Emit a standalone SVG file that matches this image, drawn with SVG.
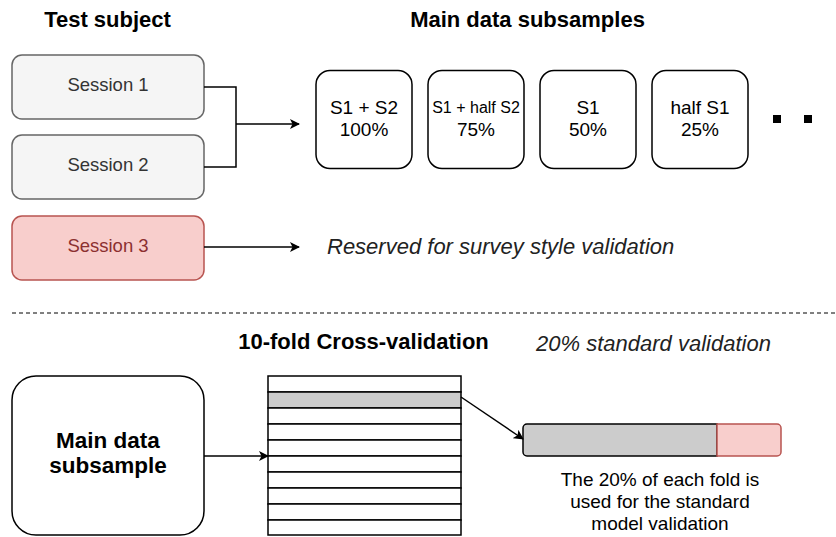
<svg xmlns="http://www.w3.org/2000/svg" width="836" height="537" viewBox="0 0 836 537">
<style>
text{font-family:"Liberation Sans",Arial,Helvetica,sans-serif;fill:#000}
.hd{font-size:22px;font-weight:bold}
.sess{fill:#f5f5f5;stroke:#666;stroke-width:1.5}
.sesst{font-size:18.5px;fill:#333}
.sub{fill:#fff;stroke:#000;stroke-width:1.5}
.subt{font-size:19px}
.it{font-size:22px;font-style:italic;fill:#222}
.ln{fill:none;stroke:#000;stroke-width:1.5}
.fold{fill:#fff;stroke:#000;stroke-width:1.5}
</style>
<defs>
<marker id="ar" viewBox="0 0 10 10" refX="9" refY="5" markerWidth="10" markerHeight="10" markerUnits="userSpaceOnUse" orient="auto">
<path d="M0,0 L10,5 L0,10 L2.5,5 Z" fill="#000"/>
</marker>
</defs>

<g id="headers">
<text class="hd" x="107.5" y="27" text-anchor="middle">Test subject</text>
<text class="hd" x="527.5" y="27" text-anchor="middle">Main data subsamples</text>
</g>

<g id="session1">
<rect class="sess" x="12" y="55" width="192" height="64" rx="10"/>
<text class="sesst" x="108" y="91" text-anchor="middle">Session 1</text>
</g>
<g id="session2">
<rect class="sess" x="12" y="135" width="192" height="64" rx="10"/>
<text class="sesst" x="108" y="171" text-anchor="middle">Session 2</text>
</g>
<g id="session3">
<rect x="12" y="216" width="192" height="64" rx="10" fill="#f8cecc" stroke="#b85450" stroke-width="1.5"/>
<text class="sesst" x="108" y="252" text-anchor="middle" style="fill:#8c3030">Session 3</text>
</g>

<g id="sub1">
<rect class="sub" x="316" y="70.5" width="96" height="98" rx="14"/>
<text class="subt" x="364" y="114" text-anchor="middle">S1 + S2</text>
<text class="subt" x="364" y="136" text-anchor="middle">100%</text>
</g>
<g id="sub2">
<rect class="sub" x="428" y="70.5" width="96" height="98" rx="14"/>
<text x="476" y="113" text-anchor="middle" style="font-size:16px">S1 + half S2</text>
<text class="subt" x="476" y="136" text-anchor="middle">75%</text>
</g>
<g id="sub3">
<rect class="sub" x="540" y="70.5" width="96" height="98" rx="14"/>
<text class="subt" x="588" y="114" text-anchor="middle">S1</text>
<text class="subt" x="588" y="136" text-anchor="middle">50%</text>
</g>
<g id="sub4">
<rect class="sub" x="652" y="70.5" width="96" height="98" rx="14"/>
<text class="subt" x="700" y="114" text-anchor="middle">half S1</text>
<text class="subt" x="700" y="136" text-anchor="middle">25%</text>
</g>
<g id="ellipsis">
<rect x="773" y="115" width="8" height="8" fill="#000"/>
<rect x="804" y="115" width="8" height="8" fill="#000"/>
</g>

<g id="reserved">
<text class="it" x="327" y="254">Reserved for survey style validation</text>
</g>

<line x1="12" y1="313" x2="836" y2="313" stroke="#000" stroke-width="1" stroke-dasharray="4 3"/>

<g id="cv-title">
<text class="hd" x="363.5" y="349" text-anchor="middle">10-fold Cross-validation</text>
<text class="it" x="653.5" y="351" text-anchor="middle">20% standard validation</text>
</g>

<g id="main-subsample">
<rect class="sub" x="12" y="376" width="192" height="159" rx="24"/>
<text x="108" y="448" text-anchor="middle" style="font-size:22.5px;font-weight:bold">Main data</text>
<text x="108" y="473" text-anchor="middle" style="font-size:22.5px;font-weight:bold">subsample</text>
</g>

<g id="folds">
<rect class="fold" x="268" y="376" width="193" height="16"/>
<rect class="fold" x="268" y="392" width="193" height="16" style="fill:#cccccc"/>
<rect class="fold" x="268" y="408" width="193" height="16"/>
<rect class="fold" x="268" y="424" width="193" height="16"/>
<rect class="fold" x="268" y="440" width="193" height="16"/>
<rect class="fold" x="268" y="456" width="193" height="16"/>
<rect class="fold" x="268" y="472" width="193" height="16"/>
<rect class="fold" x="268" y="488" width="193" height="16"/>
<rect class="fold" x="268" y="504" width="193" height="16"/>
<rect class="fold" x="268" y="520" width="193" height="15"/>
</g>

<g id="split-bar">
<path d="M717,424 H527 a4,4 0 0 0 -4,4 V452 a4,4 0 0 0 4,4 H717 Z" fill="#cccccc" stroke="#000" stroke-width="1.5"/>
<path d="M717,424 H777 a4,4 0 0 1 4,4 V452 a4,4 0 0 1 -4,4 H717 Z" fill="#f8cecc" stroke="#b85450" stroke-width="1.5"/>
</g>

<g id="caption">
<text class="subt" x="660" y="486" text-anchor="middle">The 20% of each fold is</text>
<text class="subt" x="660" y="508" text-anchor="middle">used for the standard</text>
<text class="subt" x="660" y="530" text-anchor="middle">model validation</text>
</g>

<g id="connectors">
<path class="ln" d="M204,87 H236 V167 H204"/>
<path class="ln" d="M236,124 H299" marker-end="url(#ar)"/>
<path class="ln" d="M204,247 H299" marker-end="url(#ar)"/>
<path class="ln" d="M204,456 H268" marker-end="url(#ar)"/>
<path class="ln" d="M461,397 L523,439" marker-end="url(#ar)"/>
</g>
</svg>
